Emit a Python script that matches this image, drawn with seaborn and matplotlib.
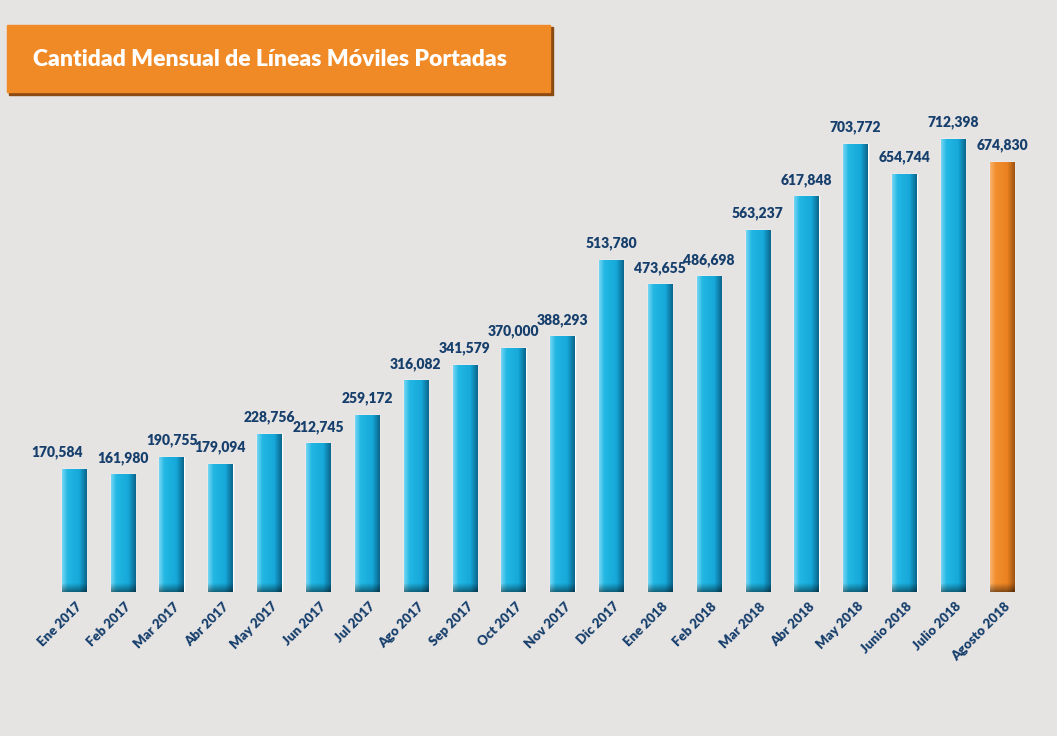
import numpy as np
import pandas as pd
import seaborn as sns
import matplotlib.pyplot as plt
from matplotlib.colors import LinearSegmentedColormap
from matplotlib.patches import Rectangle
from matplotlib.transforms import ScaledTranslation

# datos
meses = ["Ene 2017", "Feb 2017", "Mar 2017", "Abr 2017", "May 2017", "Jun 2017",
         "Jul 2017", "Ago 2017", "Sep 2017", "Oct 2017", "Nov 2017", "Dic 2017",
         "Ene 2018", "Feb 2018", "Mar 2018", "Abr 2018", "May 2018", "Junio 2018",
         "Julio 2018", "Agosto 2018"]
lineas = [170584, 161980, 190755, 179094, 228756, 212745, 259172, 316082, 341579,
          370000, 388293, 513780, 473655, 486698, 563237, 617848, 703772, 654744,
          712398, 674830]
titulo = "Cantidad Mensual de Líneas Móviles Portadas"

fondo = "#e6e3e3"
azul = "#1cb2e0"
naranja = "#f0892a"
texto_azul = "#163f6c"
colores = [azul] * (len(meses) - 1) + [naranja]

df = pd.DataFrame({"mes": meses, "lineas": lineas})

sns.set_theme(style="white")
plt.rcParams['font.family'] = ['Lato', 'DejaVu Sans']

fig = plt.figure(figsize=(10.57, 7.36), dpi=100, facecolor=fondo)
ax = fig.add_axes([0, 144 / 736, 1, 492 / 736])
ax.set_facecolor(fondo)

sns.barplot(data=df, x="mes", y="lineas", hue="mes", palette=colores,
            legend=False, width=0.5, saturation=1, ax=ax)

# la escala del original no arranca en cero
ymin = -30900
ymax = 776000
ax.set_xlim(-74 / 48.84, 19 + 55 / 48.84)
ax.set_ylim(ymin, ymax)
ax.set_autoscale_on(False)

# barras hasta la base del grafico, con sombreado tipo 3D
grad_azul = LinearSegmentedColormap.from_list(
    "ga", [(0, "#74d6f3"), (0.22, "#22b7e3"), (0.7, "#15a8d9"), (1, "#0b668c")])
grad_naranja = LinearSegmentedColormap.from_list(
    "gn", [(0, "#f8b470"), (0.22, "#f28e2f"), (0.7, "#ea8221"), (1, "#9c5212")])
gradiente = np.linspace(0, 1, 64).reshape(1, -1)
sombra = np.zeros((32, 1, 4))
sombra[:, 0, 3] = np.linspace(0, 0.45, 32)  # oscurece hacia la base
alto_sombra = 9 * (ymax - ymin) / 492
for p in ax.patches:
    p.set_height(p.get_y() + p.get_height() - ymin)
    p.set_y(ymin)
    x0, w = p.get_x(), p.get_width()
    cmap = grad_naranja if p.get_facecolor()[0] > 0.8 else grad_azul
    im = ax.imshow(gradiente, cmap=cmap, aspect="auto",
                   extent=(x0, x0 + w, ymin, ymin + p.get_height()),
                   zorder=p.get_zorder() + 0.1)
    im.set_clip_path(p)
    im2 = ax.imshow(sombra, aspect="auto", origin="upper",
                    extent=(x0, x0 + w, ymin, ymin + alto_sombra),
                    zorder=p.get_zorder() + 0.2)
    im2.set_clip_path(p)

etiquetas = []
for cont in ax.containers:
    etiquetas += ax.bar_label(cont, labels=[f"{v:,.0f}" for v in cont.datavalues],
                              padding=7, fontsize=10, fontweight="heavy",
                              color=texto_azul)
# en el original la primera etiqueta esta corrida a la izquierda
dx, dy = etiquetas[0].xyann
etiquetas[0].xyann = (dx - 12, dy)

sns.despine(ax=ax, left=True, bottom=True)
ax.set_yticks([])
ax.set_xlabel("")
ax.set_ylabel("")
ax.tick_params(axis="x", length=0, pad=9)
desplaza = ScaledTranslation(6 / 100, 0, fig.dpi_scale_trans)
for lbl in ax.get_xticklabels():
    lbl.set_rotation(45)
    lbl.set_ha("right")
    lbl.set_va("center")
    lbl.set_rotation_mode("anchor")
    lbl.set_fontsize(9.5)
    lbl.set_fontweight("heavy")
    lbl.set_color(texto_azul)
    lbl.set_transform(lbl.get_transform() + desplaza)

# banda del titulo
W, H = 1057, 736
fig.add_artist(Rectangle((9 / W, 1 - 95 / H), 544 / W, 68 / H,
                         transform=fig.transFigure, color="#8a4a12", zorder=1))
fig.add_artist(Rectangle((7 / W, 1 - 92 / H), 543 / W, 67 / H,
                         transform=fig.transFigure, color="#f08a26", zorder=2))
fig.text(33 / W, 1 - 60 / H, titulo, color="white", fontsize=16.5,
         fontweight="heavy", va="center", ha="left", zorder=3)

fig.savefig("out.png", dpi=100, facecolor=fondo)
